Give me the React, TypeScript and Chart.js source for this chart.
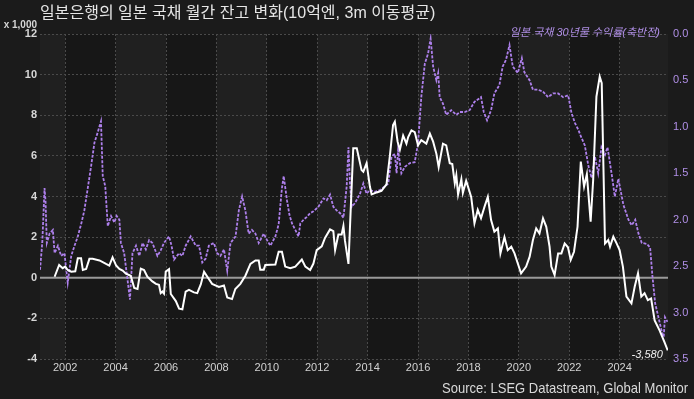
import { useEffect, useRef } from "react";
import { Chart, registerables } from "chart.js";

Chart.register(...registerables);

// ---------- text ----------
const TITLE = "일본은행의 일본 국채 월간 잔고 변화(10억엔, 3m 이동평균)";
const LEFT_UNIT = "x 1,000";
const RIGHT_LABEL = "일본 국채 30년물 수익률(축반전)";
const SOURCE = "Source: LSEG Datastream, Global Monitor";
const LAST_LABEL = "-3,580";

// ---------- axes ----------
const X_TICK_YEARS = [2002, 2004, 2006, 2008, 2010, 2012, 2014, 2016, 2018, 2020, 2022, 2024];
const X_MIN = 2001.0;
const X_MAX = 2025.92;
const LEFT_MIN = -4;
const LEFT_MAX = 12;
const RIGHT_MIN = 0;
const RIGHT_MAX = 3.5;

// ---------- BOJ JGB holdings monthly change, 3m MA (x1,000 bn yen) ----------
const bojDates = [
  2001.58, 2001.76, 2001.9, 2002.0, 2002.1, 2002.24, 2002.4, 2002.5, 2002.63, 2002.7,
  2002.83, 2002.96, 2003.09, 2003.36, 2003.62, 2003.75, 2003.88, 2004.02, 2004.15, 2004.28,
  2004.41, 2004.6, 2004.74, 2004.87, 2005.0, 2005.13, 2005.26, 2005.46, 2005.6, 2005.72,
  2005.79, 2005.86, 2005.92, 2005.99, 2006.12, 2006.19, 2006.39, 2006.52, 2006.65, 2006.78,
  2006.91, 2007.11, 2007.24, 2007.38, 2007.51, 2007.64, 2007.83, 2008.1, 2008.3, 2008.43,
  2008.62, 2008.75, 2008.95, 2009.15, 2009.35, 2009.55, 2009.68, 2009.74, 2009.88, 2009.94,
  2010.34, 2010.47, 2010.6, 2010.73, 2010.93, 2011.13, 2011.39, 2011.53, 2011.72, 2011.85,
  2011.98, 2012.18, 2012.31, 2012.51, 2012.64, 2012.71, 2012.84, 2012.97, 2013.04, 2013.1,
  2013.24, 2013.43, 2013.57, 2013.76, 2013.83, 2013.96, 2014.09, 2014.16, 2014.36, 2014.55,
  2014.75, 2014.88, 2015.01, 2015.08, 2015.19, 2015.28, 2015.41, 2015.54, 2015.61, 2015.74,
  2015.87, 2016.0, 2016.13, 2016.33, 2016.47, 2016.6, 2016.73, 2016.82, 2016.99, 2017.12,
  2017.26, 2017.36, 2017.46, 2017.52, 2017.59, 2017.72, 2017.78, 2017.91, 2017.98, 2018.11,
  2018.24, 2018.37, 2018.5, 2018.64, 2018.77, 2018.9, 2019.03, 2019.17, 2019.27, 2019.43,
  2019.56, 2019.7, 2019.83, 2019.96, 2020.09, 2020.29, 2020.43, 2020.56, 2020.69, 2020.82,
  2020.96, 2021.09, 2021.22, 2021.29, 2021.42, 2021.56, 2021.69, 2021.82, 2021.95, 2022.06,
  2022.19, 2022.33, 2022.46, 2022.59, 2022.7, 2022.85, 2022.95, 2023.08, 2023.21, 2023.29,
  2023.42, 2023.55, 2023.62, 2023.75, 2023.88, 2024.0, 2024.13, 2024.27, 2024.47, 2024.6,
  2024.73, 2024.86, 2024.99, 2025.12, 2025.25, 2025.39, 2025.59, 2025.78, 2025.91,
];
const bojValues = [
  0.05, 0.63, 0.47, 0.55, 0.38, 0.3, 0.32, 0.96, 0.96, 0.38,
  0.43, 0.93, 0.93, 0.85, 0.68, 0.6, 1.0, 0.6, 0.43, 0.35,
  0.2, 0.1, -0.5, -0.55, 0.45, 0.38, 0.05, -0.18, -0.3, -0.35,
  -0.76, -0.68, -0.78, 0.3, 0.42, -0.8, -1.15, -1.52, -1.55, -0.68,
  -0.6, -0.72, -0.76, -0.33, 0.3, 0.05, -0.3, -0.45, -0.38, -0.97,
  -1.05, -0.55, -0.3, 0.1, 0.68, 0.85, 0.85, 0.4, 0.4, 0.63,
  0.65, 1.28, 1.28, 0.55, 0.47, 0.55, 0.9, 0.55, 0.38, 0.7,
  1.36, 1.55, 1.96, 2.38, 2.3, 1.36, 2.13, 2.13, 2.55, 1.84,
  0.68, 6.37, 6.37, 5.3, 5.22, 5.64, 4.49, 4.1, 4.2, 4.28,
  4.6, 5.96, 7.52, 7.68, 6.7, 6.3, 7.0, 6.6, 6.93, 7.26,
  7.17, 6.52, 6.77, 6.6, 7.1, 6.7, 6.1, 5.45, 6.6, 6.52,
  5.64, 5.6, 4.65, 5.05, 4.1, 4.85, 4.18, 4.77, 4.5, 3.98,
  2.68, 3.34, 2.93, 3.5, 3.98, 2.84, 2.27, 2.43, 1.2, 2.0,
  1.36, 1.53, 1.2, 0.7, 0.22, 0.55, 1.04, 1.86, 2.43, 2.18,
  2.92, 2.51, 1.53, 0.55, 0.14, 1.2, 1.2, 1.69, 1.5, 0.88,
  1.28, 2.51, 5.72, 4.49, 5.1, 2.76, 4.8, 8.92, 9.9, 9.58,
  1.69, 1.86, 1.53, 2.02, 1.69, 1.36, 0.55, -0.93, -1.26, -0.43,
  0.22, -0.93, -0.76, -1.1, -1.02, -2.1, -2.6, -3.17, -3.58,
];

// ---------- JGB 30Y yield (%), plotted on inverted right axis ----------
const yieldDates = [
  2001.0, 2001.09, 2001.18, 2001.22, 2001.27, 2001.38, 2001.51, 2001.58, 2001.71, 2001.84,
  2001.97, 2002.1, 2002.24, 2002.37, 2002.5, 2002.63, 2002.76, 2002.89, 2003.03, 2003.16,
  2003.29, 2003.42, 2003.49, 2003.59, 2003.69, 2003.82, 2003.95, 2004.04, 2004.15, 2004.21,
  2004.34, 2004.47, 2004.57, 2004.67, 2004.81, 2004.94, 2005.07, 2005.2, 2005.33, 2005.46,
  2005.66, 2005.79, 2005.92, 2006.12, 2006.22, 2006.32, 2006.52, 2006.65, 2006.78, 2006.98,
  2007.18, 2007.31, 2007.44, 2007.57, 2007.7, 2007.9, 2008.03, 2008.16, 2008.3, 2008.43,
  2008.56, 2008.76, 2008.89, 2009.02, 2009.15, 2009.28, 2009.41, 2009.55, 2009.68, 2009.88,
  2010.01, 2010.14, 2010.34, 2010.47, 2010.6, 2010.67, 2010.8, 2010.9, 2011.0, 2011.13,
  2011.26, 2011.33, 2011.46, 2011.59, 2011.72, 2011.85, 2012.05, 2012.25, 2012.38, 2012.51,
  2012.64, 2012.77, 2012.91, 2013.04, 2013.17, 2013.24, 2013.3, 2013.37, 2013.5, 2013.7,
  2013.83, 2013.96, 2014.09, 2014.29, 2014.49, 2014.69, 2014.82, 2014.95, 2015.08, 2015.15,
  2015.21, 2015.34, 2015.48, 2015.68, 2015.87, 2016.0, 2016.13, 2016.27, 2016.4, 2016.5,
  2016.6, 2016.73, 2016.8, 2016.86, 2016.99, 2017.12, 2017.32, 2017.52, 2017.66, 2017.85,
  2018.05, 2018.24, 2018.5, 2018.61, 2018.74, 2018.9, 2019.03, 2019.23, 2019.36, 2019.49,
  2019.63, 2019.76, 2019.96, 2020.12, 2020.22, 2020.43, 2020.56, 2020.76, 2020.96, 2021.16,
  2021.36, 2021.56, 2021.76, 2021.96, 2022.09, 2022.23, 2022.36, 2022.46, 2022.62, 2022.76,
  2022.89, 2023.02, 2023.15, 2023.28, 2023.42, 2023.52, 2023.68, 2023.81, 2023.95, 2024.15,
  2024.35, 2024.48, 2024.62, 2024.75, 2024.88, 2025.08, 2025.21, 2025.3, 2025.41, 2025.54,
  2025.67, 2025.75, 2025.8, 2025.9,
];
const yieldValues = [
  2.54, 2.25, 1.66, 1.8, 2.25, 2.15, 2.11, 2.36, 2.28, 2.39,
  2.36, 2.68, 2.39, 2.28, 2.18, 2.05, 1.9, 1.67, 1.42, 1.17,
  1.06, 0.94, 1.53, 1.64, 2.07, 1.96, 2.03, 1.96, 2.0, 2.25,
  2.36, 2.64, 2.86, 2.36, 2.28, 2.39, 2.25, 2.32, 2.22, 2.25,
  2.39, 2.33, 2.25, 2.18, 2.28, 2.43, 2.36, 2.39, 2.28, 2.18,
  2.28, 2.28, 2.46, 2.42, 2.28, 2.25, 2.36, 2.39, 2.32, 2.55,
  2.25, 2.18, 1.9, 1.75, 1.9, 2.15, 2.11, 2.15, 2.25, 2.15,
  2.22, 2.28, 2.18, 2.05, 1.66, 1.53, 1.79, 1.95, 2.04, 2.11,
  2.18, 2.04, 2.0, 1.97, 1.93, 1.91, 1.86, 1.77, 1.79, 1.73,
  1.86, 1.9, 1.93, 1.98, 1.64, 1.22, 1.61, 1.86, 1.82, 1.72,
  1.61, 1.72, 1.68, 1.7, 1.68, 1.64, 1.61, 1.32, 1.29, 1.5,
  1.25, 1.5, 1.43, 1.39, 1.38, 1.18, 0.68, 0.32, 0.21, 0.05,
  0.35, 0.5, 0.42, 0.68, 0.75, 0.87, 0.82, 0.87, 0.84, 0.84,
  0.82, 0.73, 0.68, 0.84, 0.93, 0.82, 0.64, 0.55, 0.35, 0.28,
  0.12, 0.35, 0.42, 0.26, 0.41, 0.5, 0.6, 0.6, 0.62, 0.68,
  0.64, 0.64, 0.68, 0.66, 0.85, 0.96, 1.03, 1.1, 1.2, 1.42,
  1.55, 1.32, 1.5, 1.22, 1.3, 1.22, 1.5, 1.75, 1.56, 1.84,
  2.0, 2.06, 2.0, 2.15, 2.25, 2.26, 2.3, 2.6, 2.9, 3.05,
  3.2, 3.26, 3.05, 3.1,
];

// ---------- styles ----------
const BG = "#1b1b1b";
const BAND_LIGHT = "#202020";
const BAND_DARK = "#171717";
const GRID = "#4a4a4a";
const ZERO_LINE = "#9a9a9a";
const WHITE = "#ffffff";
const PURPLE = "#ae80ec";
const PURPLE_TEXT = "#b08fe6";
const LATIN = "'Liberation Sans', 'Noto Sans CJK KR', sans-serif";
const SOURCE_RIGHT = 688;
const SOURCE_WIDTH = 246;

const decorPlugin = {
  id: "decor",
  beforeDraw(chart: any) {
    const { ctx, chartArea, scales } = chart;
    const { left, right, top, bottom } = chartArea;
    ctx.save();
    ctx.fillStyle = BG;
    ctx.fillRect(0, 0, chart.width, chart.height);
    ctx.fillStyle = BAND_LIGHT;
    ctx.fillRect(left, top, right - left, bottom - top);
    ctx.fillStyle = BAND_DARK;
    for (let i = 0; i + 1 < X_TICK_YEARS.length; i += 2) {
      const xa = scales.x.getPixelForValue(X_TICK_YEARS[i]);
      const xb = scales.x.getPixelForValue(X_TICK_YEARS[i + 1]);
      ctx.fillRect(xa, top, xb - xa, bottom - top);
    }
    ctx.restore();
  },
  beforeDatasetsDraw(chart: any) {
    const { ctx, chartArea, scales } = chart;
    const y0 = scales.y.getPixelForValue(0);
    ctx.save();
    ctx.strokeStyle = ZERO_LINE;
    ctx.lineWidth = 2;
    ctx.beginPath();
    ctx.moveTo(chartArea.left, y0);
    ctx.lineTo(chartArea.right, y0);
    ctx.stroke();
    ctx.restore();
  },
  afterDraw(chart: any) {
    const { ctx, chartArea, scales } = chart;
    ctx.save();
    ctx.textBaseline = "middle";
    ctx.fillStyle = "#e6e6e6";
    ctx.font = `16px ${LATIN}`;
    ctx.textAlign = "left";
    ctx.fillText(TITLE, 40, 14);

    ctx.font = `bold 10px ${LATIN}`;
    ctx.fillStyle = "#d6d6d6";
    ctx.textAlign = "right";
    ctx.fillText(LEFT_UNIT, 37, 25);

    ctx.font = `italic 11px ${LATIN}`;
    ctx.fillStyle = PURPLE_TEXT;
    ctx.textAlign = "right";
    ctx.fillText(RIGHT_LABEL, chartArea.right - 8, 33);

    const lastX = scales.x.getPixelForValue(bojDates[bojDates.length - 1]);
    ctx.font = `italic 11px ${LATIN}`;
    ctx.fillStyle = "#f0f0f0";
    ctx.fillText(LAST_LABEL, lastX - 5, chartArea.bottom - 4);

    // condensed source line
    ctx.font = `15px ${LATIN}`;
    ctx.fillStyle = "#d9d9d9";
    ctx.textAlign = "right";
    const w = ctx.measureText(SOURCE).width;
    const sx = w > SOURCE_WIDTH ? SOURCE_WIDTH / w : 1;
    ctx.translate(SOURCE_RIGHT, 389);
    ctx.scale(sx, 1);
    ctx.fillText(SOURCE, 0, 0);
    ctx.restore();
  },
};

export default function App() {
  const ref = useRef<HTMLCanvasElement>(null);

  useEffect(() => {
    document.body.style.margin = "0";
    document.body.style.background = BG;
    const canvas = ref.current!;
    const chart = new Chart(canvas, {
      type: "line",
      data: {
        datasets: [
          {
            label: "BOJ",
            data: bojDates.map((x, i) => ({ x, y: bojValues[i] })),
            borderColor: WHITE,
            borderWidth: 2,
            pointRadius: 0,
            tension: 0,
            yAxisID: "y",
            order: 1,
          },
          {
            label: "JGB30Y",
            data: yieldDates.map((x, i) => ({ x, y: yieldValues[i] })),
            borderColor: PURPLE,
            borderWidth: 1.8,
            borderDash: [3, 1.5],
            pointRadius: 0,
            tension: 0,
            yAxisID: "y1",
            order: 2,
          },
        ],
      },
      options: {
        responsive: false,
        animation: false,
        events: [],
        layout: { padding: { top: 34, left: 0, right: 0, bottom: 0 } },
        plugins: {
          legend: { display: false },
          title: { display: false },
          tooltip: { enabled: false },
        },
        scales: {
          x: {
            type: "linear",
            min: X_MIN,
            max: X_MAX,
            afterBuildTicks: (scale: any) => {
              scale.ticks = X_TICK_YEARS.map((v) => ({ value: v }));
            },
            afterFit: (scale: any) => {
              scale.height = 40;
            },
            grid: { color: GRID, lineWidth: 1, drawTicks: false },
            border: { display: false, dash: [2, 2] },
            ticks: {
              color: "#d2d2d2",
              font: { family: LATIN, size: 11 },
              padding: 2,
              maxRotation: 0,
              autoSkip: false,
              callback: (v: any) => String(v),
            },
          },
          y: {
            position: "left",
            min: LEFT_MIN,
            max: LEFT_MAX,
            afterFit: (scale: any) => {
              scale.width = 40;
            },
            grid: { color: GRID, lineWidth: 1, drawTicks: false },
            border: { display: false, dash: [2, 2] },
            ticks: {
              stepSize: 2,
              color: "#d6d6d6",
              font: { family: LATIN, size: 11, weight: "bold" },
              padding: 3,
            },
          },
          y1: {
            position: "right",
            reverse: true,
            min: RIGHT_MIN,
            max: RIGHT_MAX,
            afterFit: (scale: any) => {
              scale.width = 26;
            },
            grid: { drawOnChartArea: false, drawTicks: false },
            border: { display: false },
            ticks: {
              stepSize: 0.5,
              color: PURPLE_TEXT,
              font: { family: LATIN, size: 11 },
              padding: 5,
              callback: (v: any) => Number(v).toFixed(1),
            },
          },
        },
      },
      plugins: [decorPlugin],
    });
    return () => chart.destroy();
  }, []);

  return (
    <div style={{ width: 694, height: 399, background: BG }}>
      <canvas ref={ref} width={694} height={399} style={{ display: "block", width: 694, height: 399 }} />
    </div>
  );
}
